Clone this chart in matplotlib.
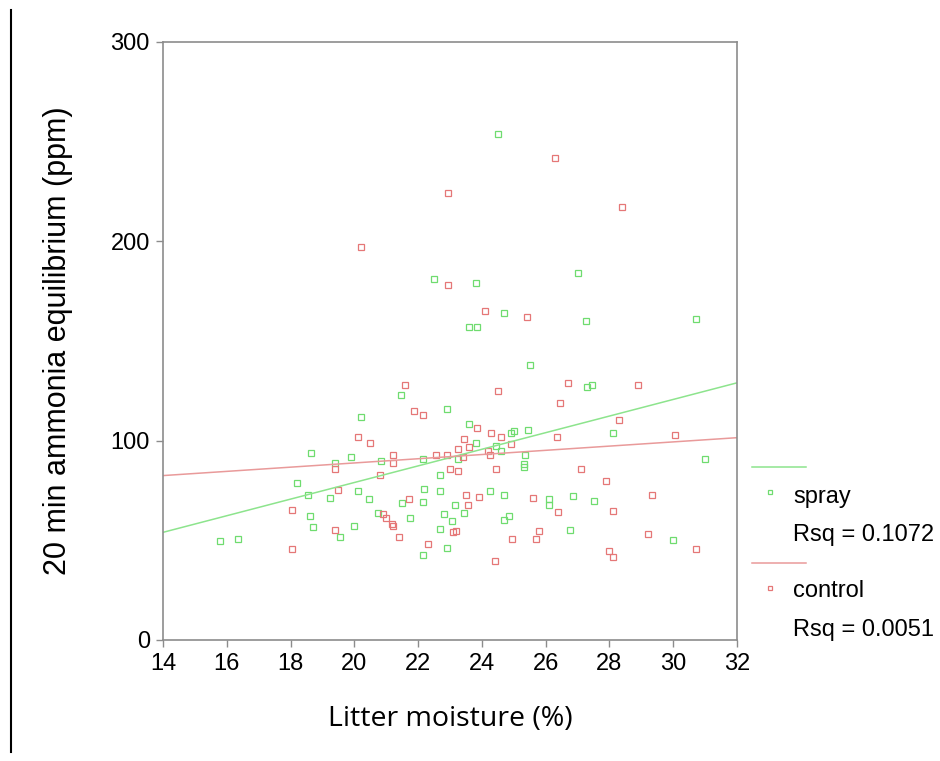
import matplotlib
matplotlib.use("Agg")
import matplotlib.pyplot as plt
from matplotlib.lines import Line2D
import numpy as np

# litter moisture (%) vs 20 min ammonia equilibrium (ppm)
spray_x = [22.5, 24.5, 27.0, 23.8, 24.7, 23.6, 23.85, 27.25, 30.7,
           21.45, 22.9, 20.2, 18.65, 19.4, 19.9, 20.85, 22.15, 23.25, 22.7,
           18.2, 18.55, 19.25, 20.1, 20.45, 22.2, 22.7, 21.5, 22.15, 23.15,
           18.6, 18.7, 20.0, 19.55, 20.75, 21.75, 22.8, 23.05, 22.7, 22.9,
           22.15, 15.8, 16.35,
           25.5, 27.3, 27.45, 23.6, 24.9, 25.0, 25.45, 28.1, 23.8, 24.45,
           24.6, 25.35, 25.33, 25.33, 31.0, 24.25, 24.7, 26.1, 26.1, 26.85,
           27.5, 23.45, 24.7, 24.85, 26.75, 30.0]
spray_y = [181, 254, 184, 179, 164, 157, 157, 160, 161,
           123, 116, 112, 94, 89, 92, 90, 91, 91, 83,
           79, 72.5, 71, 75, 70.5, 76, 74.7, 68.5, 69, 67.7,
           62, 56.5, 57, 51.5, 63.7, 61, 63, 59.6, 55.5, 46,
           42.5, 49.6, 50.6,
           138, 127, 128, 108.6, 103.6, 104.6, 105.6, 103.6, 99, 97.2,
           95, 93, 88.2, 86.7, 91, 74.7, 72.7, 70.5, 67.7, 72.2,
           69.5, 63.7, 60, 62, 55, 50]

control_x = [22.94, 20.2, 22.95, 26.3, 28.4, 24.1, 25.4,
             21.6, 21.86, 22.15, 20.1, 20.5, 19.4, 21.2, 21.2, 20.8, 22.55,
             22.9, 23.25, 23.0, 23.26, 19.5, 21.7, 18.05, 19.4, 20.9, 21.0,
             21.18, 21.22, 21.4, 23.1, 23.2, 22.3, 18.05,
             26.7, 28.9, 24.5, 26.45, 28.3, 23.85, 24.3, 24.6, 26.35, 30.05,
             23.45, 23.6, 24.9, 24.2, 24.27, 23.4, 24.45, 27.1, 27.9, 23.5,
             23.9, 25.6, 29.35, 23.55, 26.4, 28.1, 24.95, 25.8, 25.7, 24.4,
             29.2, 28.0, 28.1, 30.7]
control_y = [224, 197, 178, 242, 217, 165, 162,
             128, 115, 113, 102, 99, 86, 93, 89, 83, 93,
             93, 96, 86, 85, 75.5, 70.5, 65, 55, 63, 61,
             58, 57, 51.5, 54, 54.5, 48, 45.6,
             129, 128, 125, 119, 110.6, 106.6, 104, 101.6, 101.6, 102.6,
             101, 97, 98.4, 95, 93, 91.6, 85.6, 86, 80, 72.7,
             71.5, 71.2, 72.7, 67.7, 64, 64.5, 50.5, 54.5, 50.5, 39.6,
             53, 44.4, 41.5, 45.6]

# linear fits (intercept, slope) and their R squared
spray_fit = (-4.33, 4.167)
control_fit = (67.7, 1.056)
spray_rsq = 0.1072
control_rsq = 0.0051

x_ticks = [14, 16, 18, 20, 22, 24, 26, 28, 30, 32]
y_ticks = [0, 100, 200, 300]

green = "#6fdc6f"
red = "#e57777"
green_line = "#8de48d"
red_line = "#e99a9a"
axis_grey = "#8c8c8c"

W, H = 940, 761
fig = plt.figure(figsize=(W / 100, H / 100), dpi=100)
ax = fig.add_axes([163 / W, 121 / H, 574 / W, 598 / H])


def fx(px):
    return px / W


def fy(py):
    return 1 - py / H


ax.plot(spray_x, spray_y, "s", ms=4.2, mfc="none", mec=green, mew=0.9)
ax.plot(control_x, control_y, "s", ms=4.2, mfc="none", mec=red, mew=0.9)

xs = np.array([14, 32])
ax.plot(xs, spray_fit[0] + spray_fit[1] * xs, color=green_line, lw=1.1)
ax.plot(xs, control_fit[0] + control_fit[1] * xs, color=red_line, lw=1.1)

ax.set_xlim(14, 32)
ax.set_ylim(0, 300)
ax.set_xticks(x_ticks)
ax.set_yticks(y_ticks)
for s in ax.spines.values():
    s.set_color(axis_grey)
    s.set_linewidth(1.2)
ax.tick_params(direction="out", length=5, width=1, color=axis_grey,
               labelsize=17)
ax.tick_params(axis="x", pad=4)
ax.tick_params(axis="y", pad=4.5)
for lab in ax.get_xticklabels() + ax.get_yticklabels():
    lab.set_family("Liberation Sans")

ax.set_xlabel("Litter moisture (%)", fontsize=20.5, family="Open Sans")
ax.xaxis.set_label_coords(0.5, -0.108)
ax.xaxis.label.set_va("top")
ax.set_ylabel("20 min ammonia equilibrium (ppm)", fontsize=22,
              family="Liberation Sans")
ax.yaxis.set_label_coords(-0.157, 0.5)

# legend outside the axes, on the right
leg_font = dict(fontsize=17, family="Liberation Sans", va="center")
fig.add_artist(Line2D([fx(752), fx(806)], [fy(467), fy(467)],
                      color=green_line, lw=1.1))
fig.add_artist(Line2D([fx(770)], [fy(492)], marker="s", ms=3.5, mfc="none",
                      mec=green, mew=0.9, ls="none"))
fig.text(fx(793), fy(497), "spray", **leg_font)
fig.text(fx(793), fy(535), f"Rsq = {spray_rsq:.4f}", **leg_font)
fig.add_artist(Line2D([fx(752), fx(806)], [fy(563), fy(563)],
                      color=red_line, lw=1.1))
fig.add_artist(Line2D([fx(770)], [fy(588)], marker="s", ms=3.5, mfc="none",
                      mec=red, mew=0.9, ls="none"))
fig.text(fx(793), fy(591), "control", **leg_font)
fig.text(fx(793), fy(630), f"Rsq = {control_rsq:.4f}", **leg_font)

# frame line on the left edge
fig.add_artist(Line2D([fx(11), fx(11)], [fy(10), fy(752)], color="black",
                      lw=1.5))

fig.savefig("out.png", dpi=100)
